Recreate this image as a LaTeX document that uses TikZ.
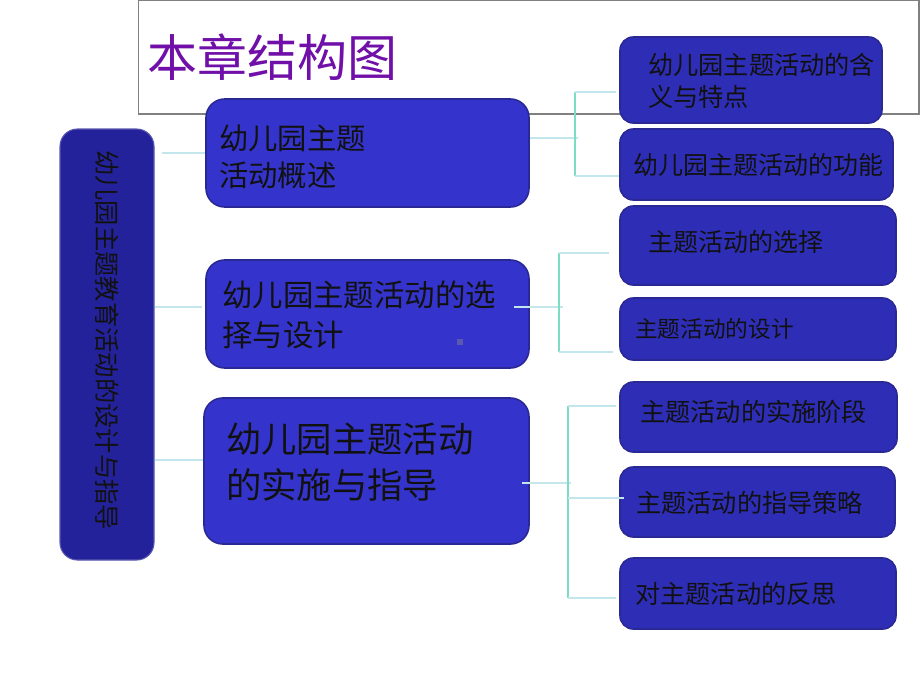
\documentclass[tikz,border=0pt]{standalone}
\usepackage{fontspec}
\newfontfamily\cjk{Noto Sans CJK SC}
\usetikzlibrary{fit}
\definecolor{titlepurple}{HTML}{7010A8}
\definecolor{leftblue}{HTML}{24229A}
\definecolor{midblue}{HTML}{3434CC}
\definecolor{rightblue}{HTML}{2E2DB6}
\definecolor{boxedge}{HTML}{2A2894}
\definecolor{leftedge}{HTML}{5A58B0}
\definecolor{linecyan}{HTML}{C3E6EC}
\definecolor{linegreen}{HTML}{7CDCC4}
\definecolor{txt}{HTML}{111111}
\begin{document}
\begin{tikzpicture}[x=0.75pt,y=-0.75pt,
  leftbox/.style={fill=leftblue,draw=leftedge,line width=0.8pt,rounded corners=13pt,inner sep=0pt},
  midbox/.style={fill=midblue,draw=boxedge,line width=1.2pt,rounded corners=14pt,inner sep=0pt},
  rightbox/.style={fill=rightblue,draw=boxedge,line width=1.2pt,rounded corners=10pt,inner sep=0pt},
  lbl/.style={inner sep=0pt,anchor=west,align=left,text=txt},
  hline/.style={draw=linecyan,line width=1.1pt},
  vline/.style={draw=linegreen,line width=1.1pt}]
\useasboundingbox (0,0) rectangle (920,690);
\fill[white] (0,0) rectangle (920,690);
% title box
\node[draw=gray,line width=1.1pt,inner sep=0pt,fit={(138.5,0.7) (919,114)}] (T) {};
\node[inner sep=0pt,anchor=west,text=titlepurple,font=\fontsize{37.5}{40}\cjk] (Tt) at (147,57) {本章结构图};
% left box
\node[leftbox,fit={(60,129) (154,560)}] (L) {};
\node[inner sep=0pt,rotate=-90,text=txt,font=\fontsize{19}{22}\cjk] (Lt) at (107,340) {幼儿园主题教育活动的设计与指导};
% middle boxes
\node[midbox,fit={(206,99) (529,207)}] (B1) {};
\node[lbl,font=\fontsize{22}{28}\cjk] (B1t) at (219,157) {幼儿园主题\\活动概述};
\node[midbox,fit={(206,260) (529,368)}] (B2) {};
\node[lbl,font=\fontsize{22.8}{30}\cjk] (B2t) at (222,315) {幼儿园主题活动的选\\择与设计};
\fill[fill=leftedge] (457,339) rectangle (463,345);
\node[midbox,fit={(204,398) (529,544)}] (B3) {};
\node[lbl,font=\fontsize{26.5}{34}\cjk] (B3t) at (226,462) {幼儿园主题活动\\的实施与指导};
% right boxes
\node[rightbox,fit={(620,37) (882,123)}] (C1) {};
\node[lbl,font=\fontsize{18.9}{24}\cjk] (C1t) at (648,81) {幼儿园主题活动的含\\义与特点};
\node[rightbox,fit={(620,129) (893,200)}] (C2) {};
\node[lbl,font=\fontsize{18.75}{24}\cjk] (C2t) at (633,165) {幼儿园主题活动的功能};
\node[rightbox,fit={(620,206) (896,285)}] (C3) {};
\node[lbl,font=\fontsize{18.75}{24}\cjk] (C3t) at (648,242) {主题活动的选择};
\node[rightbox,fit={(620,298) (896,360)}] (C4) {};
\node[lbl,font=\fontsize{17}{22}\cjk] (C4t) at (635,329) {主题活动的设计};
\node[rightbox,fit={(620,382) (897,452)}] (C5) {};
\node[lbl,font=\fontsize{18.9}{24}\cjk] (C5t) at (640,412) {主题活动的实施阶段};
\node[rightbox,fit={(620,467) (895,537)}] (C6) {};
\node[lbl,font=\fontsize{18.9}{24}\cjk] (C6t) at (636,503) {主题活动的指导策略};
\node[rightbox,fit={(620,558) (896,629)}] (C7) {};
\node[lbl,font=\fontsize{18.9}{24}\cjk] (C7t) at (635,594) {对主题活动的反思};
% connectors left -> middle
\draw[hline] (L.east |- 0,153) ++(7,0) -- (B1.west |- 0,153);
\draw[hline] (L.east |- 0,307) -- ([xshift=-2.2pt]B2.west |- 0,307);
\draw[hline] (L.east |- 0,460) -- (B3.west |- 0,460);
% B1 -> C1, C2
\coordinate (J1) at (575,138);
\draw[hline] (B1.east |- J1) -- ([xshift=2pt]J1);
\draw[vline] (575,92) -- (575,176);
\draw[hline] (575,92) -- ([xshift=-2.2pt]C1.west |- 0,92);
\draw[hline] (575,176) -- (C2.west |- 0,176);
% B2 -> C3, C4
\coordinate (J2) at (559,307);
\draw[hline] ([xshift=-12pt]B2.east |- J2) -- ([xshift=3pt]J2);
\draw[vline] (559,253) -- (559,352);
\draw[hline] (559,253) -- ([xshift=-8pt]C3.west |- 0,253);
\draw[hline] (559,352) -- ([xshift=-5pt]C4.west |- 0,352);
% B3 -> C5, C6, C7
\coordinate (J3) at (568,483);
\draw[hline] ([xshift=-6pt]B3.east |- J3) -- ([xshift=2.5pt]J3);
\draw[vline] (568,406) -- (568,598);
\draw[hline] (568,406) -- ([xshift=-2.2pt]C5.west |- 0,406);
\draw[hline] (568,498) -- ([xshift=3.5pt]C6.west |- 0,498);
\draw[hline] (568,598) -- ([xshift=-2.2pt]C7.west |- 0,598);
\end{tikzpicture}
\end{document}
